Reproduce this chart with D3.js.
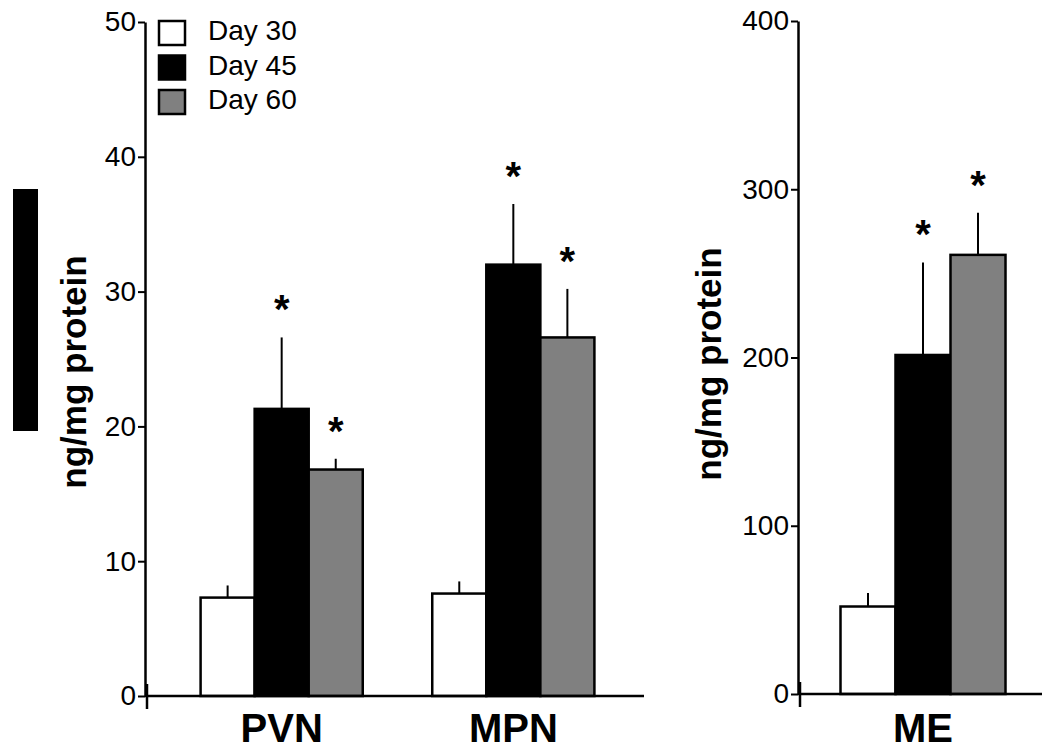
<!DOCTYPE html>
<meta charset="utf-8">
<script src="https://d3js.org/d3.v7.min.js"></script>
<style>
  body { margin: 0; background: #fff; }
  text { font-family: "Liberation Sans", Arial, sans-serif; }
</style>
<svg id="chart" width="1042" height="751"></svg>
<script>

// series / categories
var days = ["Day 30", "Day 45", "Day 60"];

// left panel (PVN, MPN)
var leftRegions = ["PVN", "MPN"];
var leftMeans = [[7.3, 21.3, 16.8], [7.6, 32.0, 26.6]];
var leftSem   = [[0.9, 5.3, 0.8], [0.9, 4.5, 3.6]];
var leftSig   = [[false, true, true], [false, true, true]];
var leftTicks = [0, 10, 20, 30, 40, 50];

// right panel (ME)
var rightRegions = ["ME"];
var rightMeans = [[52, 201.5, 261]];
var rightSem   = [[8, 55, 25]];
var rightSig   = [[false, true, true]];
var rightTicks = [0, 100, 200, 300, 400];

var yLabel = "ng/mg protein";

var svg = d3.select("#chart");

var color = d3.scaleOrdinal().domain(days).range(["#ffffff", "#000000", "#808080"]);

// odd black bar at the far left of the figure
svg.append("rect")
  .attr("x", 13).attr("y", 189).attr("width", 25).attr("height", 242)
  .attr("fill", "#000");

function panel(opts) {
  var g = svg.append("g");

  var y = d3.scaleLinear().domain(opts.domain).range([opts.y0, opts.y1]);
  var x = d3.scaleBand().domain(opts.regions)
      .range([opts.x0, opts.x1])
      .paddingInner(opts.padIn).paddingOuter(opts.padOut);
  var xSub = d3.scaleBand().domain(days).range([0, x.bandwidth()]);

  // bars
  opts.regions.forEach(function(r, i) {
    var gr = g.append("g").attr("transform", "translate(" + x(r) + ",0)");
    days.forEach(function(d, j) {
      var m = opts.means[i][j], s = opts.sem[i][j];
      var cx = xSub(d) + xSub.bandwidth() / 2;
      // error bar (upper only)
      gr.append("line")
        .attr("x1", cx).attr("x2", cx)
        .attr("y1", y(m)).attr("y2", y(m + s))
        .attr("stroke", "#000").attr("stroke-width", 2);
      gr.append("rect")
        .attr("x", xSub(d)).attr("width", xSub.bandwidth())
        .attr("y", y(m)).attr("height", y(0) - y(m))
        .attr("fill", color(d))
        .attr("stroke", "#000").attr("stroke-width", 2.5);
      if (opts.sig[i][j]) {
        gr.append("text")
          .attr("x", cx).attr("y", y(m + s) - 14)
          .attr("text-anchor", "middle")
          .attr("font-size", 40).attr("font-weight", "bold")
          .text("*");
      }
    });
    // category label
    g.append("text")
      .attr("x", x(r) + x.bandwidth() / 2).attr("y", 742)
      .attr("text-anchor", "middle")
      .attr("font-size", 40).attr("font-weight", "bold")
      .text(r);
  });

  // y axis
  var ay = g.append("g")
    .attr("transform", "translate(" + opts.x0 + ",0)")
    .call(d3.axisLeft(y).tickValues(opts.ticks).tickSize(7).tickSizeOuter(0).tickPadding(2));
  ay.select(".domain").attr("stroke-width", 2.5);
  ay.selectAll(".tick line").attr("stroke-width", 2);
  ay.selectAll(".tick text")
    .attr("font-size", 28)
    .attr("font-family", "Liberation Sans, Arial, sans-serif")
    .attr("fill", "#000");

  // x axis baseline
  g.append("line")
    .attr("x1", opts.x0).attr("x2", opts.xEnd)
    .attr("y1", y(0)).attr("y2", y(0))
    .attr("stroke", "#000").attr("stroke-width", 2.5);
  g.append("line")
    .attr("x1", opts.x0 + 2).attr("x2", opts.x0 + 2)
    .attr("y1", y(0) - 12).attr("y2", y(0) + 13)
    .attr("stroke", "#000").attr("stroke-width", 2.5);

  // y label
  g.append("text")
    .attr("transform", "translate(" + opts.labelX + "," + opts.labelY + ") rotate(-90)")
    .attr("text-anchor", "middle")
    .attr("font-size", 35).attr("font-weight", "bold")
    .text(yLabel);
}

panel({
  regions: leftRegions, means: leftMeans, sem: leftSem, sig: leftSig, ticks: leftTicks,
  domain: [0, 50], y0: 696, y1: 22,
  x0: 145, x1: 650, xEnd: 644, padIn: 0.3, padOut: 0.24,
  labelX: 86, labelY: 372
});

panel({
  regions: rightRegions, means: rightMeans, sem: rightSem, sig: rightSig, ticks: rightTicks,
  domain: [0, 400], y0: 694, y1: 21,
  x0: 798, x1: 1048, xEnd: 1042, padIn: 0.34, padOut: 0.17,
  labelX: 721, labelY: 364
});

// legend
var legend = svg.append("g").attr("transform", "translate(158,20)");
days.forEach(function(d, i) {
  legend.append("rect")
    .attr("x", 1).attr("y", i * 34.5 + 1)
    .attr("width", 26).attr("height", 24)
    .attr("fill", color(d)).attr("stroke", "#000").attr("stroke-width", 2.5);
  legend.append("text")
    .attr("x", 50).attr("y", i * 34.5 + 20)
    .attr("font-size", 28)
    .text(d);
});

</script>
